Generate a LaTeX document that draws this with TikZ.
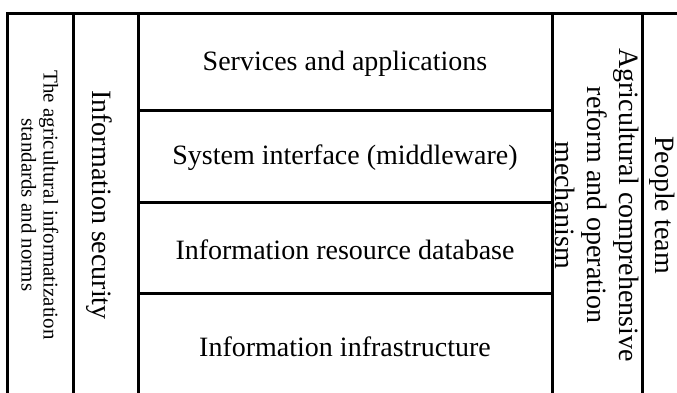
\documentclass[tikz,border=0pt]{standalone}
\usepackage{fontspec}
\setmainfont{Liberation Serif}
\usetikzlibrary{positioning}
\tikzset{
  cell/.style={draw, line width=3pt, outer sep=0pt, inner sep=0pt, anchor=north west},
  big/.style={font=\fontsize{28}{32}\selectfont, align=center},
  small/.style={font=\fontsize{21}{22}\selectfont, align=center}
}
\begin{document}
\begin{tikzpicture}[x=1pt, y=-1pt]
\useasboundingbox (0,0) rectangle (677,392);
\clip (0,0) rectangle (677,392);
% side columns
\node[cell, minimum width=66, minimum height=384] (std) at (7,13) {};
\node[cell, minimum width=65, minimum height=384] (sec) at (std.north east) {};
% layers
\node[cell, minimum width=414, minimum height=97] (svc) at (sec.north east) {};
\node[cell, minimum width=414, minimum height=92, below=0pt of svc] (mid) {};
\node[cell, minimum width=414, minimum height=91, below=0pt of mid] (db) {};
\node[cell, minimum width=414, minimum height=104, below=0pt of db] (infra) {};
\node[cell, minimum width=90, minimum height=384] (reform) at (svc.north east) {};
\node[cell, minimum width=40, minimum height=384] (people) at (reform.north east) {};
% texts
\node[small, rotate=-90] at (std.center) {The agricultural informatization\\standards and norms};
\node[big, xshift=-6pt, rotate=-90] at (sec.center) {Information security};
\foreach \n/\txt in {svc/Services and applications,
                     mid/System interface (middleware),
                     db/Information resource database,
                     infra/Information infrastructure}
  \node[big, yshift=-2pt] at (\n.center) {\txt};
\node[big, rotate=-90] at (reform.center) {Agricultural comprehensive\\reform and operation\\mechanism};
\node[big, rotate=-90] at (people.center) {People team};
\end{tikzpicture}
\end{document}
